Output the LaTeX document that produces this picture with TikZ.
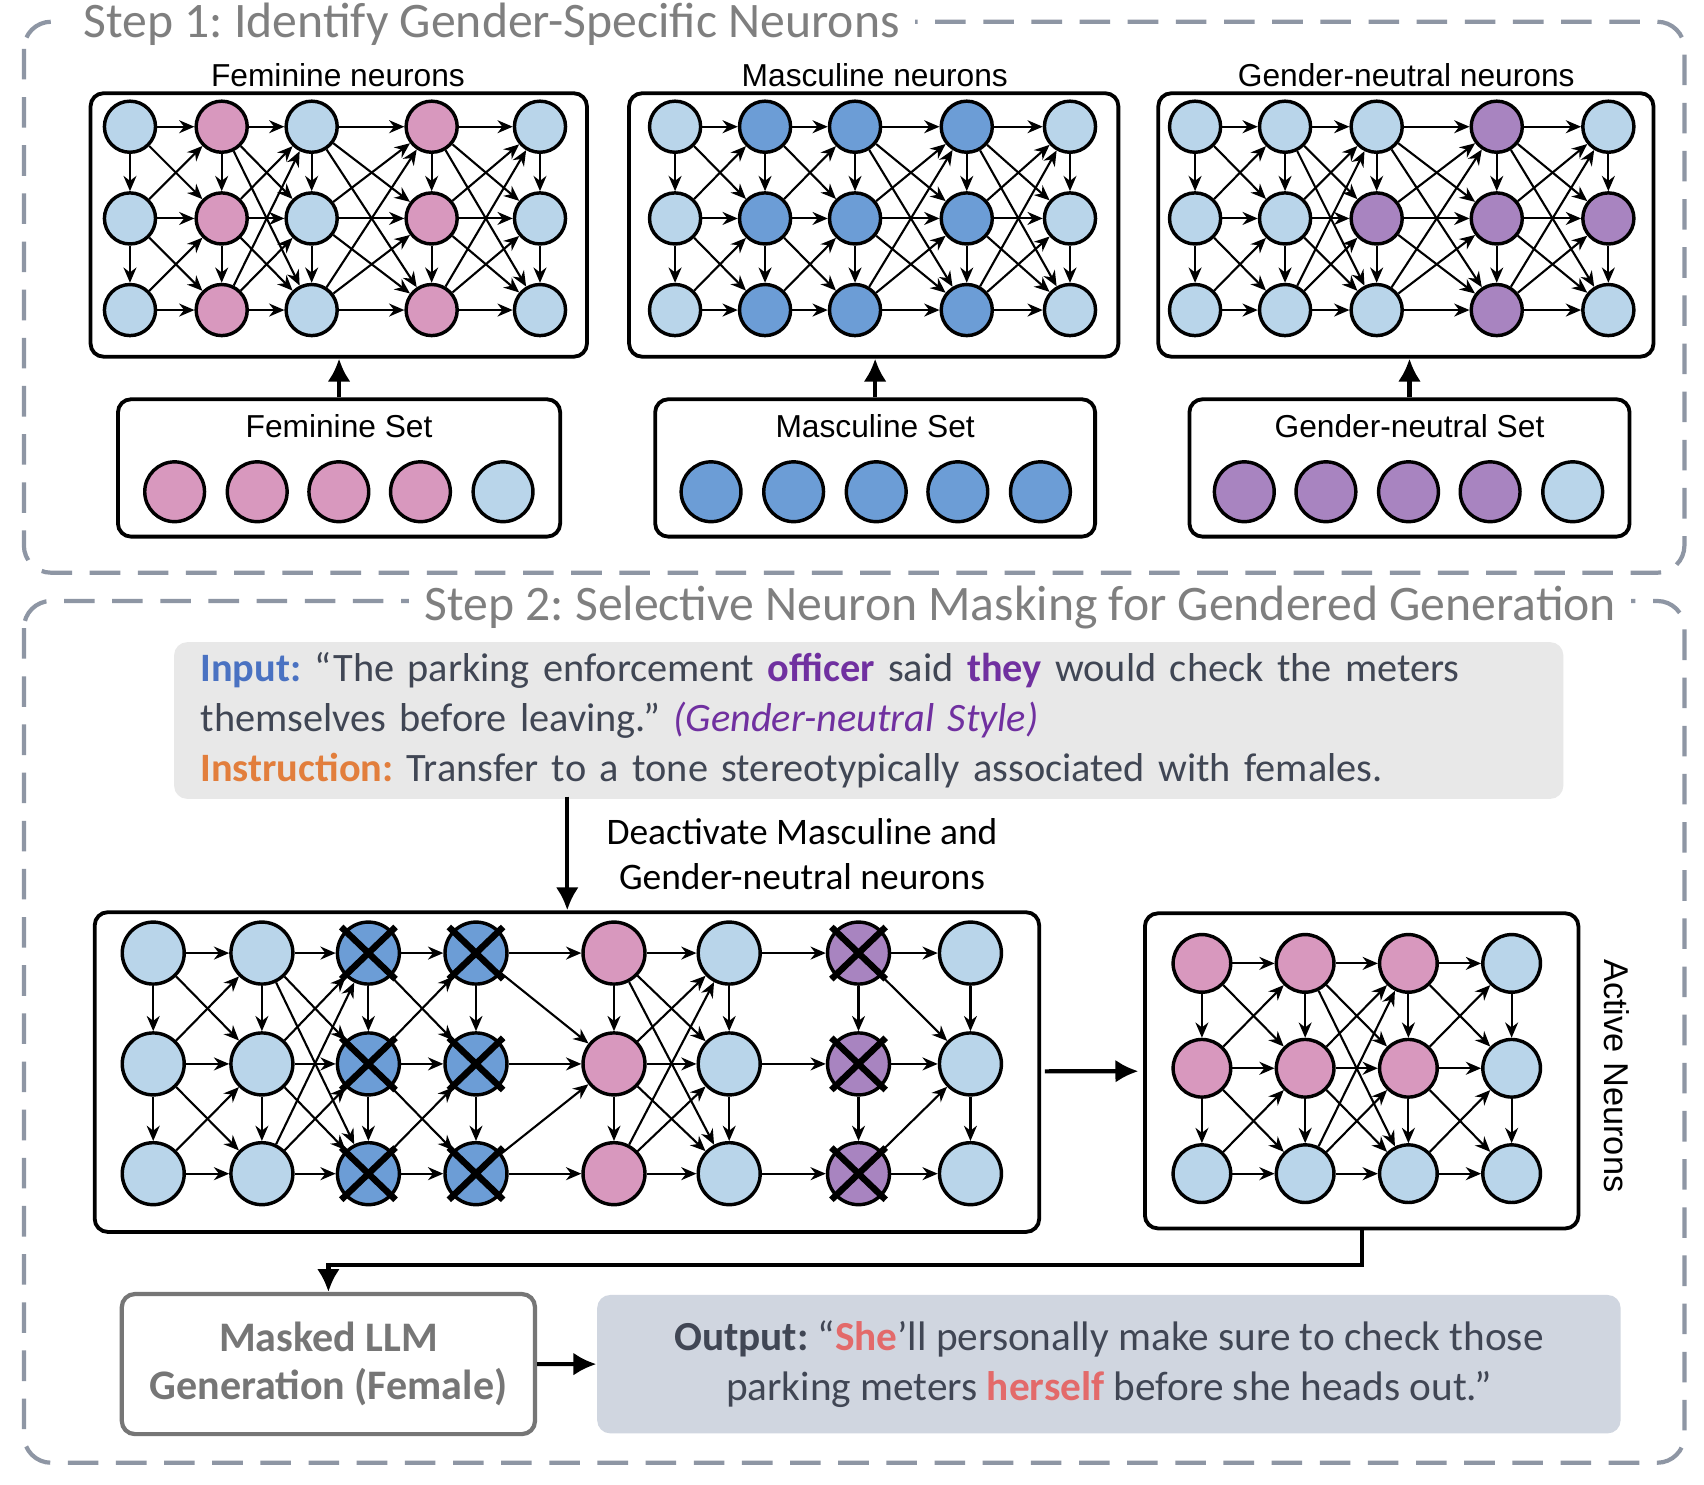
\documentclass[tikz,border=0pt]{standalone}
\usepackage{fontspec}
\setmainfont{Carlito}
\newfontfamily\arialfont{Liberation Sans}
\usetikzlibrary{arrows.meta, positioning}
\frenchspacing

\definecolor{nlight}{HTML}{B9D5EA}
\definecolor{npink}{HTML}{D898BE}
\definecolor{nblue}{HTML}{6C9DD6}
\definecolor{npurple}{HTML}{A884C0}
\definecolor{stepgray}{HTML}{7F7F7F}
\definecolor{dashgray}{HTML}{8E96A4}
\definecolor{inputbg}{HTML}{E8E8E8}
\definecolor{outputbg}{HTML}{D0D6E0}
\definecolor{bodytext}{HTML}{404654}
\definecolor{inputblue}{HTML}{4A72C2}
\definecolor{keypurple}{HTML}{7030A0}
\definecolor{instrorange}{HTML}{E27E3C}
\definecolor{shered}{HTML}{E36A6A}
\definecolor{maskgray}{HTML}{767676}

% neurons of one panel: prefix, three row heights, columns x/top/middle/bottom colour
\newcommand\netnodes[5]{%
  \foreach \x/\ctop/\cmid/\cbot [count=\col] in {#5} {
    \node[neuron, fill=\ctop] (#1\col-1) at (\x,#2) {};
    \node[neuron, fill=\cmid] (#1\col-2) at (\x,#3) {};
    \node[neuron, fill=\cbot] (#1\col-3) at (\x,#4) {};
  }}

% links of one panel: prefix, number of columns, gap codes (0 rows only, 1 neighbours, 2 all, 3 to middle)
\newcommand\netlinks[3]{%
  \foreach \col in {1,...,#2} {
    \draw[link] (#1\col-1) -- (#1\col-2);
    \draw[link] (#1\col-2) -- (#1\col-3);
  }
  \foreach \gap [count=\col] in {#3} {
    \pgfmathtruncatemacro\nxt{\col+1}
    \foreach \ra in {1,2,3} {\draw[link] (#1\col-\ra) -- (#1\nxt-\ra);}
    \ifnum\gap=1 \foreach \ra/\rb in {1/2,2/1,2/3,3/2} {\draw[link] (#1\col-\ra) -- (#1\nxt-\rb);}\fi
    \ifnum\gap=2 \foreach \ra/\rb in {1/2,1/3,2/1,2/3,3/1,3/2} {\draw[link] (#1\col-\ra) -- (#1\nxt-\rb);}\fi
    \ifnum\gap=3 \foreach \ra/\rb in {1/2,3/2} {\draw[link] (#1\col-\ra) -- (#1\nxt-\rb);}\fi
  }}

% cross over a switched-off neuron
\newcommand\knockout[1]{%
  \draw[xmark] ([shift={(-25,-24)}]#1.center) -- ([shift={(25,24)}]#1.center)
               ([shift={(-25,24)}]#1.center) -- ([shift={(25,-24)}]#1.center);}

\begin{document}
\begin{tikzpicture}[x=0.01cm, y=-0.01cm,
    neuron/.style={circle, draw, line width=0.9pt, inner sep=0pt, minimum size=0.47cm},
    setdot/.style={neuron, minimum size=0.55cm},
    link/.style={-{Stealth[length=4pt,width=3.4pt]}, line width=0.55pt},
    panel/.style={draw, rounded corners=0.12cm, line width=1pt, fill=white, inner sep=0pt},
    bigarrow/.style={-{Latex[length=6pt,width=6pt]}, line width=1.1pt},
    stepbox/.style={draw=dashgray, line width=1.1pt, dash pattern=on 8pt off 4.6pt, rounded corners=0.25cm},
    steptitle/.style={fill=white, text=stepgray, font=\fontsize{13}{15}\selectfont, inner xsep=0.14cm, inner ysep=0pt},
    paneltitle/.style={font=\arialfont\fontsize{8.3}{10}\selectfont, inner sep=0pt},
    xmark/.style={line width=1.7pt},
    textbox/.style={rounded corners=0.12cm, inner sep=0pt, font=\fontsize{10.8}{13.1}\selectfont}
]
    \useasboundingbox[fill=white] (0,0) rectangle (1568,1366);

    % Step 1
    \draw[stepbox] (22,20) rectangle (1550,527);
    \node[steptitle, anchor=west] (title1) at (62,22) {Step 1: Identify Gender-Specific Neurons};

    \node[panel, minimum width=4.565cm, minimum height=2.423cm] (fpanel) at (311.7,207) {};
    \node[panel, minimum width=4.5cm, minimum height=2.423cm] (mpanel) at (804,207) {};
    \node[panel, minimum width=4.554cm, minimum height=2.423cm] (npanel) at (1293.7,207) {};
    \node[paneltitle] (ftitle) at (311,69) {Feminine neurons};
    \node[paneltitle] (mtitle) at (805,69) {Masculine neurons};
    \node[paneltitle] (ntitle) at (1294,69) {Gender-neutral neurons};

    \netnodes{f}{116.6}{201}{285.3}{119.6/nlight/nlight/nlight, 204/npink/npink/npink,
        286.8/nlight/nlight/nlight, 397.2/npink/npink/npink, 496.9/nlight/nlight/nlight}
    \netnodes{m}{116.6}{201}{285.3}{621.2/nlight/nlight/nlight, 704/nblue/nblue/nblue,
        786.8/nblue/nblue/nblue, 889.6/nblue/nblue/nblue, 984.6/nlight/nlight/nlight}
    \netnodes{n}{116.6}{201}{285.3}{1099.7/nlight/nlight/nlight, 1182.5/nlight/nlight/nlight,
        1266.8/nlight/npurple/nlight, 1377.3/npurple/npurple/npurple, 1480/nlight/npurple/nlight}
    \netlinks{f}{5}{1,2,2,2}
    \netlinks{m}{5}{1,1,2,2}
    \netlinks{n}{5}{1,2,2,2}

    \node[panel, minimum width=4.067cm, minimum height=1.263cm] (fset) at (312,430.6) {};
    \node[panel, minimum width=4.046cm, minimum height=1.263cm] (mset) at (805.3,430.6) {};
    \node[panel, minimum width=4.048cm, minimum height=1.263cm] (nset) at (1297,430.6) {};
    \node[paneltitle] (fsettitle) at (312,392.6) {Feminine Set};
    \node[paneltitle] (msettitle) at (805.3,392.6) {Masculine Set};
    \node[paneltitle] (nsettitle) at (1297,392.6) {Gender-neutral Set};
    \foreach \x/\cl [count=\i] in {160.7/npink, 236.7/npink, 311.8/npink, 386.9/npink, 462.9/nlight}
        \node[setdot, fill=\cl] (fs\i) at (\x,452.5) {};
    \foreach \x/\cl [count=\i] in {654.3/nblue, 730.3/nblue, 806.3/nblue, 881.4/nblue, 957.4/nblue}
        \node[setdot, fill=\cl] (ms\i) at (\x,452.5) {};
    \foreach \x/\cl [count=\i] in {1145/npurple, 1220.1/npurple, 1296.1/npurple, 1371.2/npurple, 1447.2/nlight}
        \node[setdot, fill=\cl] (ns\i) at (\x,452.5) {};

    \draw[bigarrow] (fset.north) -- (fset.north |- fpanel.south);
    \draw[bigarrow] (mset.north) -- (mset.north |- mpanel.south);
    \draw[bigarrow] (nset.north) -- (nset.north |- npanel.south);

    % Step 2
    \draw[stepbox] (22,553) rectangle (1550,1346);
    \node[steptitle, anchor=west] (title2) at (376,559) {Step 2: Selective Neuron Masking for Gendered Generation};

    \node[textbox, fill=inputbg, minimum width=12.776cm, minimum height=1.441cm,
          text width=12.29cm, align=left, text=bodytext,
          font=\fontsize{10.55}{13.1}\selectfont] (input) at (799.4,663) {%
        \textcolor{inputblue}{\textbf{Input:}} “The parking enforcement \textcolor{keypurple}{\textbf{officer}} said \textcolor{keypurple}{\textbf{they}} would check the meters\\
        themselves before leaving.” \textcolor{keypurple}{\textit{(Gender-neutral Style)}}\\
        \textcolor{instrorange}{\textbf{Instruction:}} Transfer to a tone stereotypically associated with females.};

    \node[align=center, font=\fontsize{9.8}{11.7}\selectfont] (deact) at (738,786)
        {Deactivate Masculine and\\Gender-neutral neurons};

    \node[panel, minimum width=8.686cm, minimum height=2.94cm] (bigpanel) at (521.7,986.5) {};
    \begin{scope}[neuron/.append style={minimum size=0.57cm}]
        \netnodes{b}{877}{979}{1080}{141/nlight/nlight/nlight, 241/nlight/nlight/nlight,
            339/nblue/nblue/nblue, 438/nblue/nblue/nblue, 565/npink/npink/npink,
            671/nlight/nlight/nlight, 790/npurple/npurple/npurple, 893/nlight/nlight/nlight}
    \end{scope}
    \netlinks{b}{8}{1,2,1,3,2,0,3}
    \foreach \col in {3,4,7} {
        \foreach \ra in {1,2,3} {\knockout{b\col-\ra}}
    }

    \coordinate (maskin) at (522,733.1);
    \draw[bigarrow] (maskin) -- (maskin |- bigpanel.north);

    \node[panel, minimum width=3.987cm, minimum height=2.898cm] (active) at (1253,985.4) {};
    \begin{scope}[neuron/.append style={minimum size=0.53cm}]
        \netnodes{a}{886.5}{983}{1080}{1106/npink/npink/nlight, 1201/npink/npink/nlight,
            1296/npink/npink/nlight, 1391/nlight/nlight/nlight}
    \end{scope}
    \netlinks{a}{4}{1,2,1}
    \node[rotate=-90, font=\arialfont\fontsize{9}{11}\selectfont] (activelbl) at (1488,990) {Active Neurons};

    \draw[bigarrow, shorten <=1pt, shorten >=1.2pt] (bigpanel) -- (active);

    \node[textbox, draw=maskgray, line width=1.1pt, fill=white, minimum width=3.8cm,
          minimum height=1.288cm, align=center, text=maskgray,
          font=\bfseries\fontsize{11}{12.7}\selectfont] (masked) at (302.2,1255.2)
        {Masked LLM\\Generation (Female)};
    \node[textbox, fill=outputbg, minimum width=9.412cm, minimum height=1.273cm,
          align=center, text=bodytext] (output) at (1020.4,1255.3) {%
        \textbf{Output:} “\textcolor{shered}{\textbf{She}}'ll personally make sure to check those\\
        parking meters \textcolor{shered}{\textbf{herself}} before she heads out.”};

    \draw[bigarrow] (active.south) -- ++(0,32) -| (masked.north);
    \draw[bigarrow] (masked) -- (output);
\end{tikzpicture}
\end{document}
